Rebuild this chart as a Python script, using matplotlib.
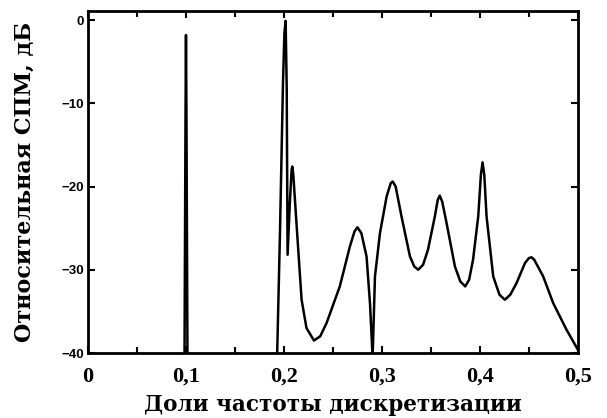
import numpy as np
from matplotlib import pyplot as plt
from matplotlib.ticker import MultipleLocator, FuncFormatter

# доли частоты дискретизации и относительная СПМ (дБ)
freq = [0.0, 0.097, 0.0985, 0.0995, 0.1, 0.1005, 0.1015, 0.103,
        0.190, 0.193, 0.196, 0.199, 0.2005, 0.2017, 0.2028, 0.2037,
        0.2060, 0.2078, 0.2085, 0.2095, 0.213, 0.218, 0.223, 0.2306,
        0.237, 0.2435, 0.257, 0.2673, 0.272, 0.275, 0.279, 0.2843,
        0.2878, 0.2905, 0.2929, 0.298, 0.3048, 0.309, 0.311, 0.314,
        0.32, 0.3286, 0.333, 0.337, 0.342, 0.347, 0.354, 0.357, 0.359,
        0.3615, 0.366, 0.3745, 0.380, 0.385, 0.389, 0.393, 0.3983,
        0.401, 0.4027, 0.4045, 0.4068, 0.4136, 0.420, 0.4255, 0.431,
        0.4374, 0.446, 0.450, 0.4527, 0.4555, 0.4646, 0.4748, 0.4884,
        0.5]
psd_db = [-50, -50, -40.5, -12, -1.8, -12, -40.5, -50,
          -50, -40.5, -25.2, -7.6, -1.5, -0.1, -8.0, -28.2,
          -22.0, -18.0, -17.6, -18.5, -24.8, -33.6, -37.0, -38.5,
          -38.0, -36.4, -32.0, -27.2, -25.4, -24.9, -25.6, -28.4,
          -34.0, -40.5, -30.8, -25.6, -21.2, -19.6, -19.4, -20.0,
          -23.6, -28.4, -29.6, -30.0, -29.4, -27.6, -23.6, -21.6, -21.1,
          -21.8, -24.4, -29.6, -31.4, -32.0, -31.2, -28.8, -23.6,
          -18.6, -17.1, -18.6, -23.6, -30.8, -33.0, -33.6, -33.0,
          -31.6, -29.2, -28.6, -28.5, -28.8, -30.8, -34.0, -37.2,
          -39.6]

xticks = [0, 0.1, 0.2, 0.3, 0.4, 0.5]
yticks = [0, -10, -20, -30, -40]

fig = plt.figure(figsize=(6.07, 4.18), dpi=100)
ax = fig.add_axes([0.145, 0.1555, 0.807, 0.8185])

ax.plot(freq, psd_db, color='black', lw=1.8, solid_joinstyle='round')

ax.set_xlim(0, 0.5)
ax.set_ylim(-40, 1.1)
ax.set_xticks(xticks)
ax.xaxis.set_minor_locator(MultipleLocator(0.05))
ax.set_yticks(yticks)
ax.xaxis.set_major_formatter(FuncFormatter(lambda v, p: ('%g' % v).replace('.', ',')))

ax.tick_params(which='both', direction='in', top=True, right=True, width=1.5)
ax.tick_params(which='major', length=5)
ax.tick_params(which='minor', length=4)
ax.tick_params(axis='x', pad=10)
ax.tick_params(axis='y', pad=3)
for lbl in ax.get_xticklabels():
    lbl.set_fontfamily('Liberation Serif')
    lbl.set_fontweight('bold')
    lbl.set_fontsize(16)
for lbl in ax.get_yticklabels():
    lbl.set_fontfamily('Liberation Sans')
    lbl.set_fontweight('bold')
    lbl.set_fontsize(9.5)
for s in ax.spines.values():
    s.set_linewidth(2)

ax.set_xlabel('Доли частоты дискретизации', fontfamily='DejaVu Serif',
              fontweight='bold', fontsize=15.5, labelpad=5)
ax.set_ylabel('Относительная СПМ, дБ', fontfamily='DejaVu Serif',
              fontweight='bold', fontsize=16, labelpad=18)

plt.savefig('out.png', dpi=100)
